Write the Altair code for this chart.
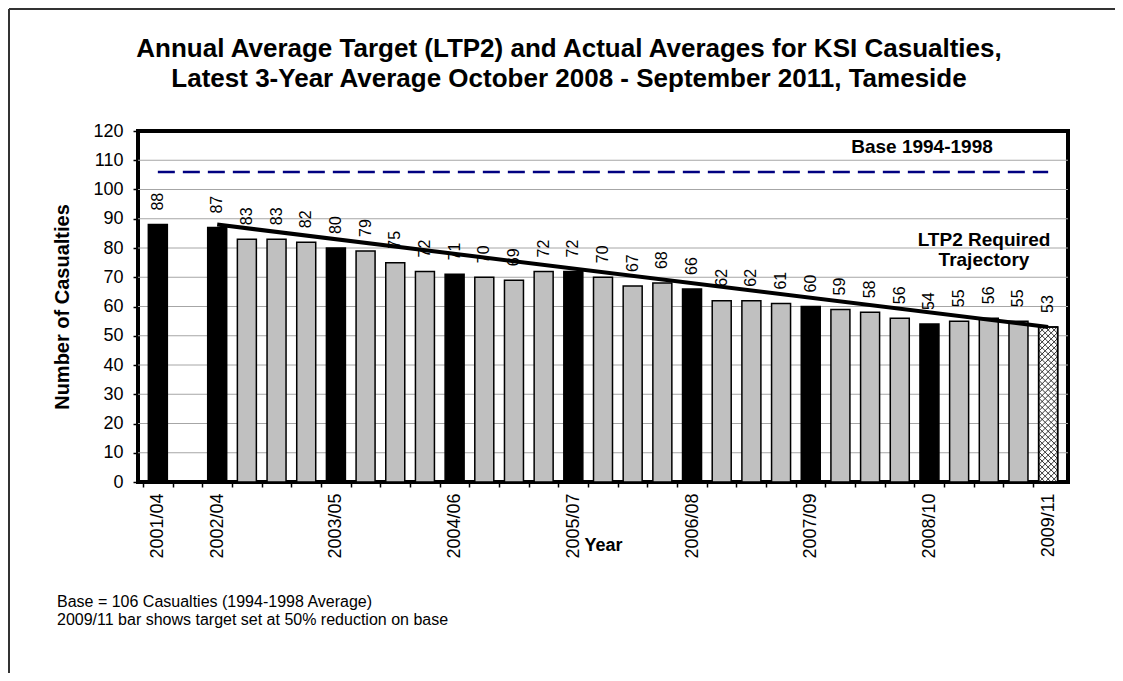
import json
import altair as alt
import pandas as pd

# ---------------- data ----------------
period_labels = ["2001/04", "", "2002/04", "", "", "", "2003/05", "", "", "", "2004/06",
                 "", "", "", "2005/07", "", "", "", "2006/08", "", "", "", "2007/09",
                 "", "", "", "2008/10", "", "", "", "2009/11"]
casualties = [88, None, 87, 83, 83, 82, 80, 79, 75, 72, 71, 70, 69, 72, 72, 70, 67, 68,
              66, 62, 62, 61, 60, 59, 58, 56, 54, 55, 56, 55, 53]
base_value = 106
base_slots = [1, 31]
trajectory_slots = [3, 31]
trajectory_values = [88, 53]

title_lines = ["Annual Average Target (LTP2) and Actual Averages for KSI Casualties,",
               "Latest 3-Year Average October 2008 - September 2011, Tameside"]
footnote_lines = ["Base = 106 Casualties (1994-1998 Average)",
                  "2009/11 bar shows target set at 50% reduction on base"]
base_note = "Base 1994-1998"
trajectory_note = ["LTP2 Required", "Trajectory"]
y_ticks = list(range(0, 121, 10))

# ---------------- layout ----------------
FONT = "Liberation Sans"
W, H = 930, 351
PAD = {"left": 130, "top": 123, "right": 47, "bottom": 191}
n = len(period_labels)
slot_px = W / n

rows = []
for i, (lab, v) in enumerate(zip(period_labels, casualties)):
    if v is None:
        continue
    kind = "target" if i == n - 1 else ("annual" if lab else "rolling")
    rows.append({"slot": i + 1, "value": v, "kind": kind, "label": str(v)})
bars_df = pd.DataFrame(rows)

traj_df = pd.DataFrame({"slot": trajectory_slots, "value": trajectory_values})
base_df = pd.DataFrame({"slot": base_slots, "value": [base_value] * len(base_slots)})
grid_df = pd.DataFrame({"value": y_ticks[1:-1]})

# cross-hatch tiles for the target bar (style only)
target_slot = n
target_val = casualties[-1]
ppu = H / 120
n_rows = round(target_val * ppu / 6)
step = target_val / n_rows
hatch_df = pd.DataFrame({"slot": [target_slot] * n_rows,
                         "value": [(k + 0.5) * step for k in range(n_rows)]})
hatch_path = ("M-1,-0.333L-0.333,0.333M-1,0.333L-0.333,-0.333"
              "M-0.333,-0.333L0.333,0.333M-0.333,0.333L0.333,-0.333"
              "M0.333,-0.333L1,0.333M0.333,0.333L1,-0.333")

x_scale = alt.Scale(domain=[0.5, n + 0.5], nice=False, zero=False)
y_scale = alt.Scale(domain=[0, 120], nice=False, zero=True)

x_axis = alt.Axis(
    values=list(range(1, n + 1)), tickOffset=-slot_px / 2, labelOffset=slot_px / 2,
    labelExpr=f"{json.dumps(period_labels)}[datum.value - 1]",
    labelAngle=270, labelFontSize=18, labelColor="black", labelPadding=6,
    labelOverlap=False, labelFlush=False, labelBound=False,
    tickSize=5, tickColor="black", tickWidth=1.5, domain=False, grid=False,
    title="Year", titleFontSize=18, titleFontWeight="bold", titleColor="black",
    titleX=W / 2, titleY=63, titleBaseline="middle", titleAlign="center",
)
y_axis = alt.Axis(
    values=y_ticks, grid=False,
    tickSize=5, tickColor="black", tickWidth=1.5, labelFontSize=18, labelColor="black",
    labelPadding=10, domain=False,
    title="Number of Casualties", titleFontSize=20, titleFontWeight="bold",
    titleColor="black", titleX=-76, titleY=H / 2, titleAngle=270,
    titleBaseline="middle", titleAlign="center",
)

X = alt.X("slot:Q", scale=x_scale, axis=x_axis)
Y = alt.Y("value:Q", scale=y_scale, axis=y_axis)

base = alt.Chart(bars_df)

grid = alt.Chart(grid_df).mark_rule(color="#a6a6a6", strokeWidth=1).encode(y=Y)

bars = base.mark_bar(size=19, stroke="black", strokeWidth=1.5).encode(
    x=X, y=Y,
    fill=alt.Fill("kind:N", scale=alt.Scale(domain=["annual", "rolling", "target"],
                                            range=["#000000", "#c0c0c0", "#ffffff"]),
                  legend=None),
)

hatch = alt.Chart(hatch_df).mark_point(
    shape=hatch_path, size=324, filled=False, stroke="black", strokeWidth=0.8, opacity=1
).encode(x=X, y=Y)

target_outline = base.transform_filter(alt.datum.kind == "target").mark_bar(
    size=19, stroke="black", strokeWidth=1.5, fillOpacity=0
).encode(x=X, y=Y)

traj = alt.Chart(traj_df).mark_line(color="black", strokeWidth=4, strokeCap="butt").encode(
    x=X, y=Y)

base_line = alt.Chart(base_df).mark_line(color="#000080", strokeWidth=2.5,
                                         strokeDash=[17, 8]).encode(x=X, y=Y)

value_labels = base.mark_text(angle=270, align="left", baseline="middle", dx=14,
                              fontSize=16, color="black").encode(
    x=X, y=Y, text="label:N")

one = pd.DataFrame({"k": [0]})

title_text = alt.Chart(one).mark_text(
    fontSize=26, fontWeight="bold", align="center", baseline="alphabetic",
    lineHeight=29.5, color="black"
).encode(x=alt.value(431), y=alt.value(-74), text=alt.value(title_lines))

foot_text = alt.Chart(one).mark_text(
    fontSize=16, align="left", baseline="alphabetic", lineHeight=17.5, color="black"
).encode(x=alt.value(-81), y=alt.value(476), text=alt.value(footnote_lines))

base_note_text = alt.Chart(one).mark_text(
    fontSize=19, fontWeight="bold", align="center", baseline="alphabetic", color="black"
).encode(x=alt.value(784), y=alt.value(22), text=alt.value(base_note))

traj_note_text = alt.Chart(one).mark_text(
    fontSize=19, fontWeight="bold", align="center", baseline="alphabetic",
    lineHeight=20, color="black"
).encode(x=alt.value(846), y=alt.value(115), text=alt.value(trajectory_note))

frame_left = alt.Chart(one).mark_rule(color="#333333", strokeWidth=2).encode(
    x=alt.value(-129), y=alt.value(-122), y2=alt.value(H + PAD["bottom"]))
frame_top = alt.Chart(one).mark_rule(color="#333333", strokeWidth=2).encode(
    y=alt.value(-122), x=alt.value(-129), x2=alt.value(W + PAD["right"]))

chart = alt.layer(
    grid, bars, hatch, target_outline, traj, base_line, value_labels,
    title_text, foot_text, base_note_text, traj_note_text, frame_left, frame_top,
).properties(
    width=W, height=H, padding=PAD, autosize=alt.AutoSizeParams(type="none"),
    background="white",
).configure(font=FONT).configure_view(stroke="black", strokeWidth=4)

chart.save("out.html", embed_options={"renderer": "svg", "actions": False})
